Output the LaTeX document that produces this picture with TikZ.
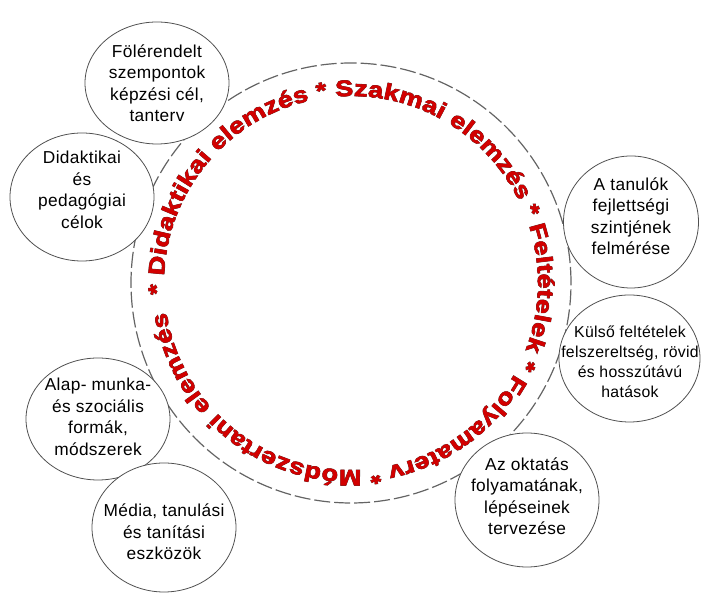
\documentclass[tikz,border=0pt]{standalone}
\usepackage{fontspec}
\setmainfont{Liberation Sans}[LetterSpace=2]
\newfontfamily\arcfont{Liberation Sans Bold}[FakeStretch=1.2,FakeBold=1.2]
\newfontfamily\arcfontdark{Liberation Sans Bold}[FakeStretch=1.2,FakeBold=3.5]
\protected\def\arcstyle{\arcfont\fontsize{22.5}{22.5}\selectfont}
\protected\def\arcstyledark{\arcfontdark\fontsize{22.5}{22.5}\selectfont}
\usetikzlibrary{shapes.geometric,decorations.text}
\definecolor{arcred}{RGB}{210,0,0}
\definecolor{ringgray}{RGB}{100,100,100}
\definecolor{bubbleline}{RGB}{80,80,80}
\definecolor{shadowgray}{RGB}{75,60,60}
\begin{document}
\begin{tikzpicture}[x=1pt,y=1pt,
  ring/.style={draw=ringgray,line width=1.2pt,dash pattern=on 16pt off 4pt},
  bubble/.style={ellipse,draw=bubbleline,fill=white,line width=0.8pt,inner sep=0pt},
  btext/.style={align=center,inner sep=0pt,font=\fontsize{17.3}{21.5}\selectfont},
  arctext/.style 2 args={decorate,decoration={text along path,text align=fit to path,
    text color=#1,
    text={|#2|* Didaktikai elemzés * Szakmai elemzés * Feltételek * Folyamaterv * Módszertani elemzés}}}
]
\useasboundingbox (0,0) rectangle (702,593);
\coordinate (C) at (351,310);
\draw[ring] (C) circle[radius=220];
\begin{scope}[shift={(0.6,-0.6)}]
\path[arctext={shadowgray}{\arcstyledark}] ([shift={(183.5:187)}]C) arc[start angle=183.5,end angle=-171,radius=187];
\end{scope}
\path[arctext={arcred}{\arcstyle}] ([shift={(183.5:187)}]C) arc[start angle=183.5,end angle=-171,radius=187];

\node[bubble,minimum width=144pt,minimum height=122pt] (c1) at (157,510) {};
\node[btext] (t1) at (157,510) {Fölérendelt\\szempontok\\képzési cél,\\tanterv};
\node[bubble,minimum width=144pt,minimum height=128pt] (c2) at (82,396) {};
\node[btext] (t2) at (82,403) {Didaktikai\\és\\pedagógiai\\célok};
\node[bubble,minimum width=135pt,minimum height=132pt] (c3) at (631,371) {};
\node[btext] (t3) at (631,377) {A tanulók\\fejlettségi\\szintjének\\felmérése};
\node[bubble,minimum width=141pt,minimum height=127pt] (c4) at (629.5,234.5) {};
\node[btext,font=\fontsize{15.8}{20}\selectfont] (t4) at (630,231) {Külső feltételek\\felszereltség, rövid\\és hosszútávú\\hatások};
\node[bubble,minimum width=144pt,minimum height=134pt] (c5) at (527,93) {};
\node[btext] (t5) at (527,97) {Az oktatás\\folyamatának,\\lépéseinek\\tervezése};
\node[bubble,minimum width=144pt,minimum height=122pt] (c6) at (98,174) {};
\node[btext] (t6) at (98,176) {Alap- munka-\\és szociális\\formák,\\módszerek};
\node[bubble,minimum width=144pt,minimum height=129pt] (c7) at (164,65.5) {};
\node[btext] (t7) at (164,61) {Média, tanulási\\és tanítási\\eszközök};
\end{tikzpicture}
\end{document}
